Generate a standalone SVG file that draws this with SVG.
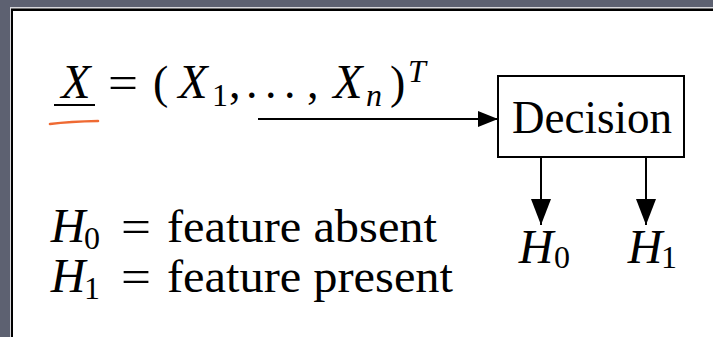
<svg xmlns="http://www.w3.org/2000/svg" width="713" height="337" viewBox="0 0 713 337">
  <style>
    .t { font-family: "Liberation Serif", "Times New Roman", serif; fill: #000; }
    .m { font-size: 46px; }
    .v { font-size: 48px; font-style: italic; text-anchor: middle; }
    .i { font-style: italic; }
    .s { font-size: 32px; }
    .ln { stroke: #000; stroke-width: 2; fill: none; }
  </style>
  <defs>
    <marker id="ah" viewBox="0 0 20 20" refX="20" refY="10" markerWidth="20" markerHeight="20" markerUnits="userSpaceOnUse" orient="auto">
      <path d="M0,2 L20,10 L0,18 Z" fill="#000"/>
    </marker>
    <marker id="ahd" viewBox="0 0 26 20" refX="26" refY="10" markerWidth="26" markerHeight="20" markerUnits="userSpaceOnUse" orient="auto">
      <path d="M0,0 L26,10 L0,20 Z" fill="#000"/>
    </marker>
  </defs>
  <!-- slide background -->
  <rect x="0" y="0" width="713" height="337" fill="#5d6171"/>
  <rect x="10" y="7" width="703" height="330" fill="#d8d8dc"/>
  <rect x="11" y="8.5" width="702" height="328.5" fill="#000"/>
  <rect x="13" y="11" width="700" height="326" fill="#fff"/>

  <g id="input-label">
    <text class="t v" x="76" y="98">X</text>
    <line class="ln" x1="54" y1="105" x2="95" y2="105"/>
    <path d="M50,124 Q70,121.5 98,121" stroke="#ef6a33" stroke-width="2.6" fill="none" stroke-linecap="round"/>
    <text class="t m" x="108" y="98" textLength="30" lengthAdjust="spacingAndGlyphs">=</text>
    <text class="t m" x="153" y="98">(</text>
    <text class="t v" x="193" y="98">X</text>
    <text class="t s" x="212" y="106">1</text>
    <text class="t m" x="229" y="98">,</text>
    <text class="t m" y="98"><tspan x="246">.</tspan><tspan x="265">.</tspan><tspan x="284">.</tspan></text>
    <text class="t m" x="307" y="98">,</text>
    <text class="t v" x="348" y="98">X</text>
    <text class="t s i" x="366" y="106">n</text>
    <text class="t m" x="390" y="98">)</text>
    <text class="t s i" x="408" y="82">T</text>
  </g>

  <g id="decision">
    <rect x="498" y="76" width="186" height="81" fill="#fff" stroke="#000" stroke-width="2"/>
    <text class="t" x="512" y="133" font-size="46" textLength="160" lengthAdjust="spacingAndGlyphs">Decision</text>
  </g>

  <g id="out-h0">
    <text class="t v" x="536" y="263">H</text>
    <text class="t s" x="554" y="268">0</text>
  </g>
  <g id="out-h1">
    <text class="t v" x="645" y="263">H</text>
    <text class="t s" x="661" y="268">1</text>
  </g>

  <g id="legend">
    <text class="t v" x="68" y="242">H</text>
    <text class="t s" x="84" y="249">0</text>
    <text class="t m" x="121" y="242" textLength="30" lengthAdjust="spacingAndGlyphs">=</text>
    <text class="t m" x="167" y="242" textLength="270" lengthAdjust="spacingAndGlyphs">feature absent</text>
    <text class="t v" x="68" y="292">H</text>
    <text class="t s" x="84" y="299">1</text>
    <text class="t m" x="121" y="292" textLength="30" lengthAdjust="spacingAndGlyphs">=</text>
    <text class="t m" x="167" y="292" textLength="286" lengthAdjust="spacingAndGlyphs">feature present</text>
  </g>

  <g id="connectors">
    <line class="ln" x1="258" y1="119" x2="498" y2="119" marker-end="url(#ah)"/>
    <line class="ln" x1="541" y1="157" x2="541" y2="225" marker-end="url(#ahd)"/>
    <line class="ln" x1="646" y1="157" x2="646" y2="225" marker-end="url(#ahd)"/>
  </g>
</svg>
